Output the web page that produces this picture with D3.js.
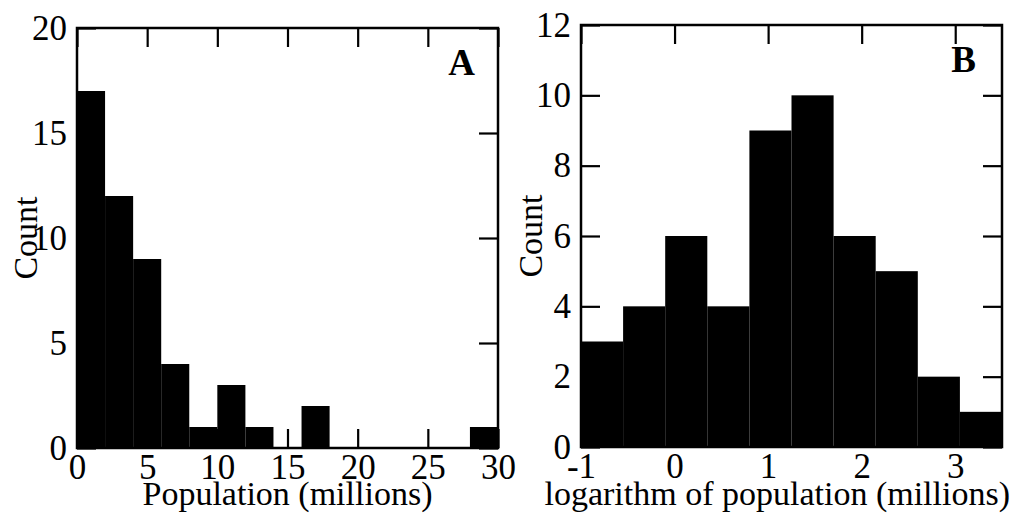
<!DOCTYPE html>
<html><head><meta charset="utf-8">
<script src="https://cdn.jsdelivr.net/npm/d3@7"></script>
<style>
body{margin:0;background:#fff}
svg text{font-family:"Liberation Serif","Times New Roman",Times,serif;fill:#000}
</style>
</head><body>
<svg id="chart" width="1016" height="514"></svg>
<script>
// Panel A: population histogram
const popBinEdges = [0,2,4,6,8,10,12,14,16,18,20,22,24,26,28,30];
const popCounts   = [17,12,9,4,1,3,1,0,2,0,0,0,0,0,1];
const popXTicks   = [0,5,10,15,20,25,30];
const popYTicks   = [0,5,10,15,20];

// Panel B: log population histogram
const logBinEdges = [-1,-0.55,-0.1,0.35,0.8,1.25,1.7,2.15,2.6,3.05,3.5];
const logCounts   = [3,4,6,4,9,10,6,5,2,1];
const logXTicks   = [-1,0,1,2,3];
const logYTicks   = [0,2,4,6,8,10,12];

const svg = d3.select("#chart");
svg.append("rect").attr("width",1016).attr("height",514).attr("fill","#fff");

function panel(cfg){
  const g = svg.append("g");
  const x = d3.scaleLinear().domain(cfg.xDomain).range([cfg.left, cfg.right]);
  const y = d3.scaleLinear().domain(cfg.yDomain).range([cfg.bottom, cfg.top]);
  const bins = cfg.counts.map((c,i)=>({x0:cfg.edges[i], x1:cfg.edges[i+1], c}));
  g.selectAll("rect.bar").data(bins.filter(d=>d.c>0)).join("rect")
    .attr("class","bar")
    .attr("x", d=>x(d.x0)).attr("width", d=>x(d.x1)-x(d.x0))
    .attr("y", d=>y(d.c)).attr("height", d=>y(0)-y(d.c))
    .attr("fill","#000");
  const fmt = d=>String(d);
  const T = 19;
  const styleAxis = (sel, labels)=>{
    sel.select(".domain").remove();
    sel.selectAll(".tick line").attr("stroke","#000").attr("stroke-width",2.2);
    if(!labels) sel.selectAll(".tick text").remove();
    else sel.selectAll(".tick text").attr("font-size",35).attr("font-family","Liberation Serif, Times New Roman, serif").attr("fill","#000");
  };
  g.append("g").attr("transform",`translate(0,${cfg.bottom})`)
    .call(d3.axisBottom(x).tickValues(cfg.xTicks).tickFormat(fmt).tickSizeInner(-T).tickSizeOuter(0).tickPadding(6))
    .call(s=>styleAxis(s,true));
  g.append("g").attr("transform",`translate(0,${cfg.top})`)
    .call(d3.axisTop(x).tickValues(cfg.xTicks).tickSizeInner(-T).tickSizeOuter(0))
    .call(s=>styleAxis(s,false));
  g.append("g").attr("transform",`translate(${cfg.left},0)`)
    .call(d3.axisLeft(y).tickValues(cfg.yTicks).tickFormat(fmt).tickSizeInner(-T).tickSizeOuter(0).tickPadding(10))
    .call(s=>styleAxis(s,true));
  g.append("g").attr("transform",`translate(${cfg.right},0)`)
    .call(d3.axisRight(y).tickValues(cfg.yTicks).tickSizeInner(-T).tickSizeOuter(0))
    .call(s=>styleAxis(s,false));
  g.append("rect").attr("x",cfg.left).attr("y",cfg.top)
    .attr("width",cfg.right-cfg.left).attr("height",cfg.bottom-cfg.top)
    .attr("fill","none").attr("stroke","#000").attr("stroke-width",2.5);
  // titles
  const xt = g.append("text").attr("y",505).attr("font-size",34).text(cfg.xTitle);
  if(cfg.xTitleEnd) xt.attr("x",cfg.xTitleEnd).attr("text-anchor","end");
  else xt.attr("x",(cfg.left+cfg.right)/2).attr("text-anchor","middle");
  g.append("text").attr("transform",`translate(${cfg.yTitleX},${(cfg.top+cfg.bottom)/2}) rotate(-90)`)
    .attr("text-anchor","middle").attr("font-size",34).text("Count");
  g.append("text").attr("x",cfg.right-cfg.letterInset).attr("y",cfg.top+cfg.letterDrop)
    .attr("text-anchor","end").attr("font-size",37).attr("font-weight","bold").text(cfg.letter);
}

panel({left:77,right:498,top:28,bottom:448,xDomain:[0,30],yDomain:[0,20],
  edges:popBinEdges,counts:popCounts,xTicks:popXTicks,yTicks:popYTicks,
  xTitle:"Population (millions)",yTitleX:37,letter:"A",letterInset:23,letterDrop:47});
panel({left:581,right:1002,top:25,bottom:447,xDomain:[-1,3.5],yDomain:[0,12],
  edges:logBinEdges,counts:logCounts,xTicks:logXTicks,yTicks:logYTicks,
  xTitle:"logarithm of population (millions)",xTitleEnd:1010,yTitleX:542,letter:"B",letterInset:26,letterDrop:47});
</script>
</body></html>
